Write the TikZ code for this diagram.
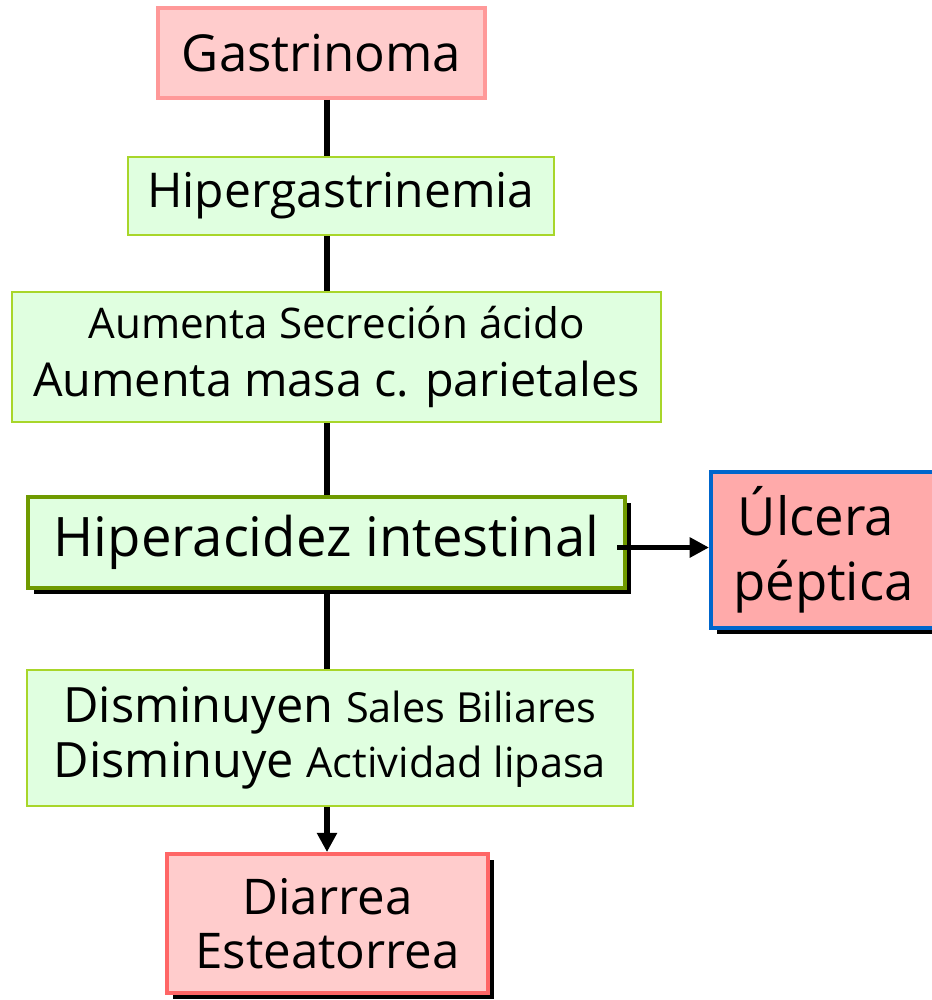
\documentclass[tikz,border=0pt]{standalone}
\usepackage{fontspec}
\setmainfont{Open Sans}
\usetikzlibrary{shadows,arrows.meta}

\definecolor{rosa}{HTML}{FFCCCC}
\definecolor{rosaborde}{HTML}{FF9999}
\definecolor{rojoborde}{HTML}{FF6666}
\definecolor{salmon}{HTML}{FFAAAA}
\definecolor{verdeclaro}{HTML}{E0FFE0}
\definecolor{verdeborde}{HTML}{A8D62A}
\definecolor{oliva}{HTML}{6F9A00}
\definecolor{azul}{HTML}{0066CC}

\newcommand{\tam}[1]{\fontsize{#1}{#1}\selectfont}

\begin{document}
\begin{tikzpicture}[x=0.02cm, y=-0.02cm,
    caja/.style={
        draw,
        align=center,
        inner sep=0pt,
        text=black
    },
    rosabox/.style={
        caja,
        fill=rosa,
        draw=rosaborde,
        line width=2.2pt
    },
    verdebox/.style={
        caja,
        fill=verdeclaro,
        draw=verdeborde,
        line width=1.1pt
    },
    sombra/.style={
        drop shadow={shadow xshift=0.12cm, shadow yshift=-0.12cm,
                     opacity=1, fill=black}
    },
    linea/.style={
        line width=3.2pt,
        black
    },
    flecha/.style={
        linea,
        -{Triangle[length=11pt,width=11pt]}
    }
]

\useasboundingbox (0,0) rectangle (931,1000);

% eje vertical
\coordinate (eje) at (327,0);

%%%%%%%%%%%%%%%%%%%%%%%%
% Cajas
%%%%%%%%%%%%%%%%%%%%%%%%

% --- Gastrinoma ---
\node[rosabox, minimum width=6.54cm, minimum height=1.8cm,
      font=\tam{29}] (gastrinoma) at (321.5,53) {Gastrinoma};

% --- Hipergastrinemia ---
\node[verdebox, minimum width=8.52cm, minimum height=1.56cm,
      font=\tam{27.3}] (hipergastrinemia) at (341,196) {Hipergastrinemia};

% --- Secrecion acida ---
\node[verdebox, minimum width=12.98cm, minimum height=2.6cm,
      font=\tam{26.6}] (secrecion) at (336.5,357)
      {{\tam{24}Aumenta Secreción ácido}\\[6pt]Aumenta masa c. parietales};

% --- Hiperacidez ---
\node[verdebox, draw=oliva, line width=2.6pt, sombra,
      minimum width=11.94cm, minimum height=1.82cm,
      font=\tam{31}] (hiperacidez) at (326.5,542.5) {Hiperacidez intestinal};

% --- Ulcera ---
\node[rosabox, fill=salmon, draw=azul, sombra,
      minimum width=6cm, minimum height=3.12cm,
      font=\tam{30}, anchor=west] (ulcera) at (709,550)
      {\hspace*{-1.8cm}Úlcera\\[7pt]\hspace*{-1.5cm}péptica};

% --- Sales biliares ---
\node[verdebox, minimum width=12.12cm, minimum height=2.72cm,
      font=\tam{27.7}] (sales) at (330,738)
      {Disminuyen {\tam{23.6}Sales Biliares}\\[4pt]Disminuye {\tam{23.6}Actividad lipasa}};

% --- Diarrea ---
\node[rosabox, draw=rojoborde, sombra,
      minimum width=6.42cm, minimum height=2.78cm,
      font=\tam{28}] (diarrea) at (327.5,923.5) {Diarrea\\[3pt]Esteatorrea};

%%%%%%%%%%%%%%%%%%%%%%%%
% Conectores
%%%%%%%%%%%%%%%%%%%%%%%%

\draw[linea] (gastrinoma.south -| eje) -- (hipergastrinemia.north -| eje);
\draw[linea] (hipergastrinemia.south -| eje) -- (secrecion.north -| eje);
\draw[linea] (secrecion.south -| eje) -- (hiperacidez.north -| eje);
\draw[linea] (hiperacidez.south -| eje) -- (sales.north -| eje);
\draw[flecha] (sales.south -| eje) -- (diarrea.north -| eje);
\draw[flecha, line width=2.8pt] ([xshift=-0.2cm,yshift=-0.1cm]hiperacidez.east)
    -- ([yshift=-0.1cm]ulcera.west |- hiperacidez.east);

\end{tikzpicture}
\end{document}
